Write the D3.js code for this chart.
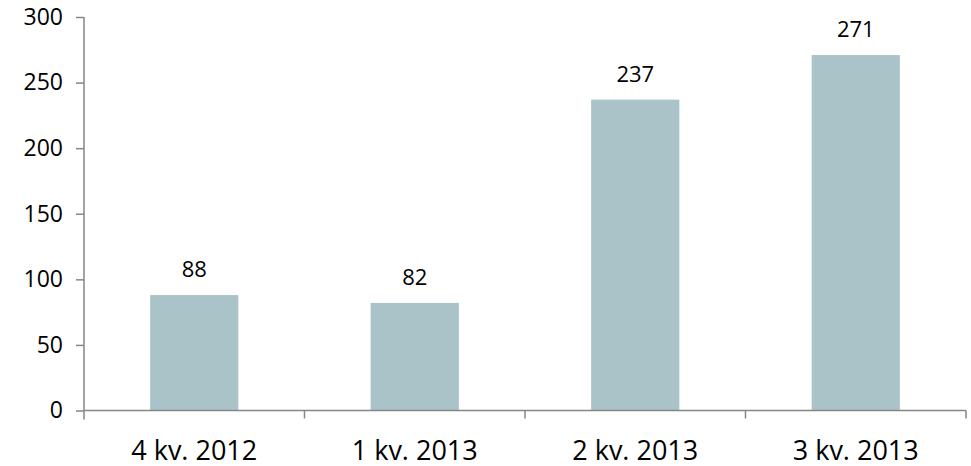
<!DOCTYPE html>
<html>
<head>
<meta charset="utf-8">
<script src="https://cdn.jsdelivr.net/npm/d3@7"></script>
<style>
  body { margin: 0; background: #fff; }
  text { font-family: "Open Sans", sans-serif; fill: #000; }
  .axis path, .axis line { stroke: #868686; stroke-width: 1.5; }
</style>
</head>
<body>
<div id="chart"></div>
<script>
const categories = ["4 kv. 2012", "1 kv. 2013", "2 kv. 2013", "3 kv. 2013"];
const values = [88, 82, 237, 271];
const yTicks = [0, 50, 100, 150, 200, 250, 300];

const width = 971, height = 466;
const margin = { left: 84, right: 5, top: 17, bottom: 55.5 };

const svg = d3.select('#chart').append('svg')
    .attr('width', width)
    .attr('height', height);

const x = d3.scaleBand()
    .domain(categories)
    .range([margin.left, width - margin.right])
    .paddingInner(0.6)
    .paddingOuter(0.3);

const y = d3.scaleLinear()
    .domain([0, 300])
    .range([height - margin.bottom, margin.top]);

// y axis
const yAxis = d3.axisLeft(y).tickValues(yTicks).tickSize(8).tickPadding(13);
const gy = svg.append('g')
    .attr('class', 'y axis')
    .attr('transform', 'translate(' + margin.left + ',0)')
    .call(yAxis);
gy.select('.domain').attr('d', 'M0,' + margin.top + 'V' + (height - margin.bottom + 9));
gy.selectAll('text').style('font-size', '23px');

// bars
svg.append('g').selectAll('rect')
    .data(values)
    .enter()
    .append('rect')
    .attr('x', (d, i) => x(categories[i]))
    .attr('y', d => y(d))
    .attr('width', x.bandwidth())
    .attr('height', d => y(0) - y(d))
    .attr('fill', '#a9c3c8');

// x axis (ticks between categories)
const gx = svg.append('g')
    .attr('class', 'x axis')
    .attr('transform', 'translate(0,' + y(0) + ')');
gx.append('path')
    .attr('d', 'M' + margin.left + ',0H' + (width - margin.right))
    .attr('fill', 'none');
const step = x.step();
const bounds = d3.range(1, categories.length + 1).map(i => margin.left + i * step);
gx.selectAll('line.tick')
    .data(bounds)
    .enter()
    .append('line')
    .attr('x1', d => d).attr('x2', d => d)
    .attr('y1', 0).attr('y2', 8);
gx.selectAll('text')
    .data(categories)
    .enter()
    .append('text')
    .attr('x', d => x(d) + x.bandwidth() / 2)
    .attr('y', 49)
    .attr('text-anchor', 'middle')
    .style('font-size', '27px')
    .text(d => d);

// value labels
svg.append('g').selectAll('text')
    .data(values)
    .enter()
    .append('text')
    .attr('x', (d, i) => x(categories[i]) + x.bandwidth() / 2)
    .attr('y', d => y(d) - 18)
    .attr('text-anchor', 'middle')
    .style('font-size', '22px')
    .text(d => d);
</script>
</body>
</html>
